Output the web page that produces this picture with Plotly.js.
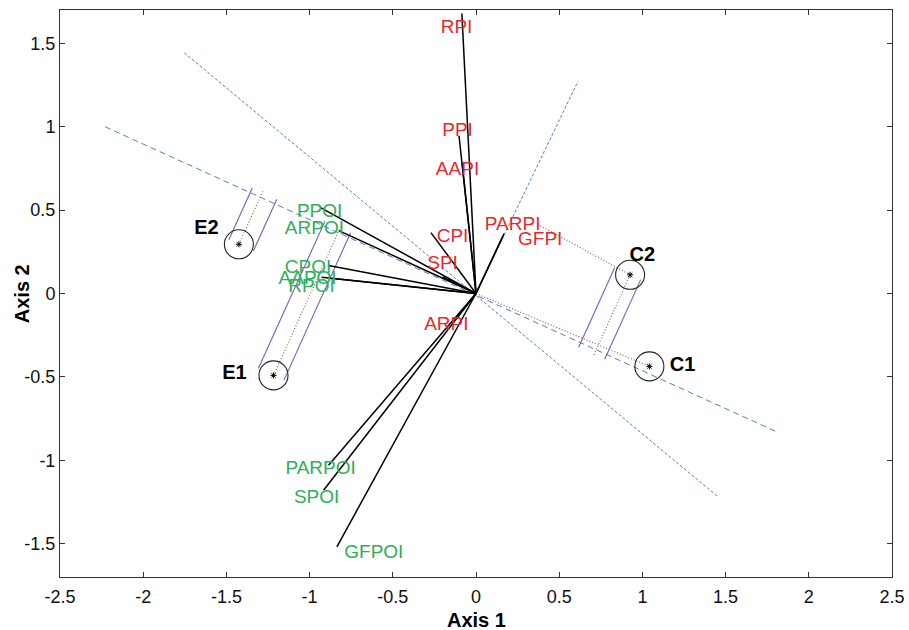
<!DOCTYPE html>
<html>
<head>
<meta charset="utf-8">
<script src="https://cdn.plot.ly/plotly-3.0.1.min.js"></script>
<style>
  html, body { margin: 0; padding: 0; background: #fff; }
  #chart { width: 909px; height: 630px; }
</style>
</head>
<body>
<div id="chart"></div>
<script>
// ---------- data ----------
const piNames   = ['RPI', 'PPI', 'AAPI', 'CPI', 'SPI', 'PARPI', 'GFPI', 'ARPI'];
const piX       = [-0.085, -0.102, -0.083, -0.271, -0.200, 0.169, 0.160, -0.120];
const piY       = [1.680, 0.946, 0.780, 0.365, 0.100, 0.359, 0.340, -0.150];
const piLabelX  = [-0.117, -0.111, -0.111, -0.141, -0.201, 0.220, 0.386, -0.178];
const piLabelY  = [1.593, 0.970, 0.737, 0.335, 0.174, 0.407, 0.317, -0.192];

const poiNames  = ['PPOI', 'ARPOI', 'CPOI', 'AAPOI', 'RPOI', 'PARPOI', 'SPOI', 'GFPOI'];
const poiX      = [-0.934, -0.825, -0.886, -0.928, -0.845, -0.886, -0.916, -0.836];
const poiY      = [0.515, 0.377, 0.168, 0.098, 0.088, -1.030, -1.180, -1.519];
const poiLabelX = [-0.940, -0.971, -1.009, -1.012, -0.988, -0.934, -0.958, -0.614];
const poiLabelY = [0.485, 0.383, 0.154, 0.088, 0.038, -1.054, -1.228, -1.557];

const ptNames   = ['E1', 'E2', 'C1', 'C2'];
const ptX       = [-1.217, -1.425, 1.042, 0.926];
const ptY       = [-0.491, 0.295, -0.437, 0.112];
const ptLabelX  = [-1.452, -1.620, 1.241, 1.000];
const ptLabelY  = [-0.485, 0.389, -0.437, 0.222];
const bandLo    = [-0.100, -0.066, null, -0.102];
const bandHi    = [0.069, 0.096, null, 0.070];

const axisStartX = [-2.229, -1.753, 0.000];
const axisStartY = [1.000, 1.443, 0.000];
const axisEndX   = [1.813, 1.458, 0.614];
const axisEndY   = [-0.832, -1.222, 1.275];

const linkFromX  = [0.000, 0.370];
const linkFromY  = [0.000, 0.415];
const linkToPt   = [2, 3];

const xTickVals = [-2.5, -2, -1.5, -1, -0.5, 0, 0.5, 1, 1.5, 2, 2.5];
const xTickText = ['-2.5', '-2', '-1.5', '-1', '-0.5', '0', '0.5', '1', '1.5', '2', '2.5'];
const yTickVals = [-1.5, -1, -0.5, 0, 0.5, 1, 1.5];
const yTickText = ['-1.5', '-1', '-0.5', '0', '0.5', '1', '1.5'];

const xTitle = 'Axis 1';
const yTitle = 'Axis 2';

// ---------- styles ----------
const RED = '#e3292e', GREEN = '#2fae5c', BLUE = '#4f7fbf', PURPLE = '#7a5fb0', BROWN = '#94684f';
const FONT = 'Liberation Sans, Arial, Helvetica, sans-serif';

const traces = [];

// projection axes (dashed blue)
const axisDash = ['6px,4px', '3px,2px', '3px,2px'];
for (let i = 0; i < axisStartX.length; i++) {
  traces.push({
    x: [axisStartX[i], axisEndX[i]], y: [axisStartY[i], axisEndY[i]],
    mode: 'lines', line: {color: BLUE, width: 1, dash: axisDash[i]}, hoverinfo: 'skip'
  });
}

// bands: projections of points onto axis 0
const ax0 = 0;
const dx = axisEndX[ax0] - axisStartX[ax0], dy = axisEndY[ax0] - axisStartY[ax0];
const L = Math.hypot(dx, dy), ux = dx / L, uy = dy / L;
const purX = [], purY = [], dotX = [], dotY = [];
for (let i = 0; i < ptX.length; i++) {
  if (bandLo[i] === null) continue;
  const px = ptX[i], py = ptY[i];
  const t = (px - axisStartX[ax0]) * ux + (py - axisStartY[ax0]) * uy;
  const fx = axisStartX[ax0] + t * ux, fy = axisStartY[ax0] + t * uy;
  const vx = fx - px, vy = fy - py, vl = Math.hypot(vx, vy);
  const nx = vx / vl, ny = vy / vl;
  [bandLo[i], bandHi[i]].forEach(off => {
    purX.push(px + off * ux, fx + off * ux + 0.03 * nx, null);
    purY.push(py + off * uy, fy + off * uy + 0.03 * ny, null);
  });
  dotX.push(px, fx + 0.045 * nx, null);
  dotY.push(py, fy + 0.045 * ny, null);
}
for (let k = 0; k < linkFromX.length; k++) {
  dotX.push(linkFromX[k], ptX[linkToPt[k]], null);
  dotY.push(linkFromY[k], ptY[linkToPt[k]], null);
}
traces.push({x: purX, y: purY, mode: 'lines', line: {color: PURPLE, width: 1.1}, hoverinfo: 'skip'});
traces.push({x: dotX, y: dotY, mode: 'lines', line: {color: BROWN, width: 1.2, dash: '1px,2px'}, hoverinfo: 'skip'});

// loading vectors (black)
const vx = [], vy = [];
piX.forEach((x, i) => { vx.push(0, x, null); vy.push(0, piY[i], null); });
poiX.forEach((x, i) => { vx.push(0, x, null); vy.push(0, poiY[i], null); });
traces.push({x: vx, y: vy, mode: 'lines', line: {color: '#000', width: 1.5}, hoverinfo: 'skip'});

// point circles and centres
traces.push({x: ptX, y: ptY, mode: 'markers',
  marker: {symbol: 'circle-open', size: 29, color: '#222', line: {width: 1.1, color: '#222'}}, hoverinfo: 'skip'});
traces.push({x: ptX, y: ptY, mode: 'markers',
  marker: {symbol: 'asterisk-open', size: 5, color: '#000', line: {width: 1, color: '#000'}}, hoverinfo: 'skip'});

// labels
traces.push({x: piLabelX, y: piLabelY, text: piNames, mode: 'text', textposition: 'middle center',
  textfont: {family: FONT, size: 19, color: RED}, hoverinfo: 'skip'});
traces.push({x: poiLabelX, y: poiLabelY, text: poiNames, mode: 'text', textposition: 'middle center',
  textfont: {family: FONT, size: 19, color: GREEN}, hoverinfo: 'skip'});
traces.push({x: ptLabelX, y: ptLabelY, text: ptNames.map(s => '<b>' + s + '</b>'), mode: 'text', textposition: 'middle center',
  textfont: {family: FONT, size: 20, color: '#000'}, hoverinfo: 'skip'});

const axisCommon = {
  showgrid: false, zeroline: false, showline: true, mirror: 'ticks',
  linecolor: '#333', linewidth: 1, ticks: 'inside', ticklen: 5, tickcolor: '#333',
  tickfont: {family: FONT, size: 18, color: '#111'}, fixedrange: true
};

const layout = {
  width: 909, height: 630,
  margin: {l: 60, r: 17, t: 10, b: 53},
  paper_bgcolor: '#fff', plot_bgcolor: '#fff',
  showlegend: false, hovermode: false,
  xaxis: Object.assign({}, axisCommon, {
    range: [-2.5, 2.5], tickvals: xTickVals, ticktext: xTickText, ticklabelstandoff: 3
  }),
  yaxis: Object.assign({}, axisCommon, {
    range: [-1.7, 1.7], tickvals: yTickVals, ticktext: yTickText
  }),
  annotations: [
    {text: '<b>' + xTitle + '</b>', xref: 'paper', yref: 'paper', x: 0.5, y: -0.075,
     xanchor: 'center', yanchor: 'middle', showarrow: false,
     font: {family: FONT, size: 20, color: '#000'}},
    {text: '<b>' + yTitle + '</b>', xref: 'paper', yref: 'paper', x: -0.046, y: 0.5,
     xanchor: 'center', yanchor: 'middle', showarrow: false, textangle: -90,
     font: {family: FONT, size: 20, color: '#000'}}
  ]
};

Plotly.newPlot('chart', traces, layout, {displayModeBar: false, staticPlot: true});
</script>
</body>
</html>
